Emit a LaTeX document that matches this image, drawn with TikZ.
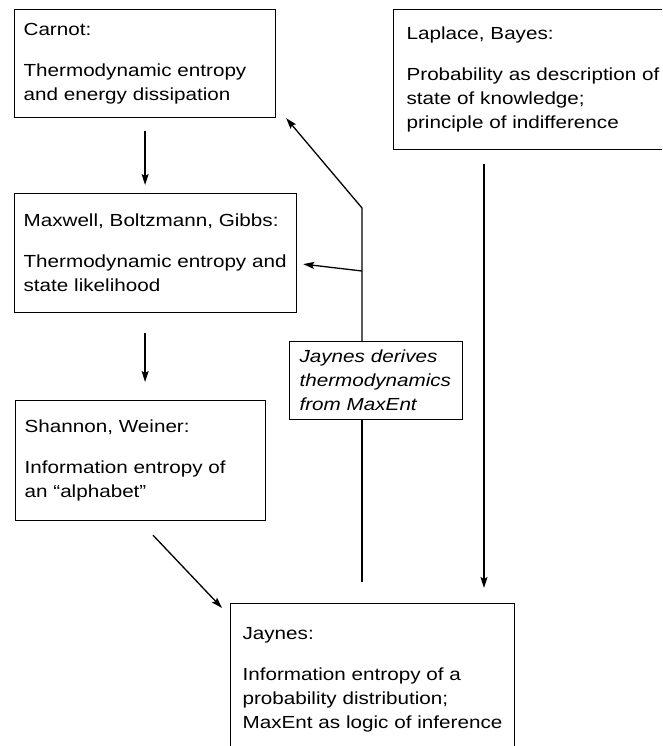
\documentclass[tikz,border=0pt]{standalone}
\usepackage{fontspec}
\setmainfont{Liberation Sans}[FakeStretch=1.18]
\usetikzlibrary{arrows.meta,calc}
\newcommand{\tline}[1]{\mbox{#1}}
\begin{document}
\begin{tikzpicture}[x=1pt,y=-1pt,
  every node/.style={font=\fontsize{17.5}{24}\selectfont},
  boxnode/.style={draw, line width=1.2pt, anchor=north west, align=left,
    inner ysep=0pt},
  arr/.style={line width=1.3pt, -{Stealth[length=11pt,width=7pt,inset=2pt]}},
  plain/.style={line width=1.3pt}]
\useasboundingbox (0,0) rectangle (662,746);
\clip (0,0) rectangle (662,746);
\fill[white] (0,0) rectangle (662,746);

\node[boxnode, inner xsep=9pt, text width=243pt, minimum height=108pt] (carnot) at (14,9)
  {\tline{Carnot:}\\[17pt]\tline{Thermodynamic entropy}\\\tline{and energy dissipation}};
\node[boxnode, inner xsep=13pt, text width=270pt, minimum height=140pt] (laplace) at (393,9)
  {\tline{Laplace, Bayes:}\\[17pt]\tline{Probability as description of}\\\tline{state of knowledge;}\\\tline{principle of indifference}};
\node[boxnode, inner xsep=9pt, text width=264pt, minimum height=119pt] (maxwell) at (14,193)
  {\tline{Maxwell, Boltzmann, Gibbs:}\\[17pt]\tline{Thermodynamic entropy and}\\\tline{state likelihood}};
\node[boxnode, inner xsep=9pt, text width=232pt, minimum height=120pt] (shannon) at (15,400)
  {\tline{Shannon, Weiner:}\\[17pt]\tline{Information entropy of}\\\tline{an ``alphabet''}};
\node[boxnode, inner xsep=10pt, text width=153pt, minimum height=78pt, font=\fontsize{17.5}{24}\selectfont\itshape] (jaynesd) at (289,341)
  {\tline{Jaynes derives}\\\tline{thermodynamics}\\\tline{from MaxEnt}};
\node[boxnode, inner xsep=12pt, text width=260pt, minimum height=152pt] (jaynes) at (230,603)
  {\tline{Jaynes:}\\[17pt]\tline{Information entropy of a}\\\tline{probability distribution;}\\\tline{MaxEnt as logic of inference}};

% named free ends
\coordinate (bend) at (362,208);
\coordinate (branch) at (362,271);
\coordinate (jbase) at (362,582);

\draw[arr] ([yshift=-13pt]carnot.south) -- ([yshift=8pt]maxwell.north -| carnot.south);
\draw[arr] ([yshift=-20pt]maxwell.south -| carnot.south) -- ([yshift=18pt]shannon.north -| carnot.south);
\draw[arr] ($(shannon.south west)+(138,14)$) -- ($(jaynes.north west)+(-8,5)$);
\draw[arr] ([yshift=-14pt]laplace.south -| 484,0) -- ([yshift=15pt]jaynes.north -| 484,0);
\draw[plain] (jbase) -- (jaynesd.south -| jbase);
\draw[arr] (jaynesd.north -| bend) -- (bend) -- ($(carnot.south east)+(10,0)$);
\draw[arr] (branch) -- ($(maxwell.east)+(6,11)$);
\end{tikzpicture}
\end{document}
